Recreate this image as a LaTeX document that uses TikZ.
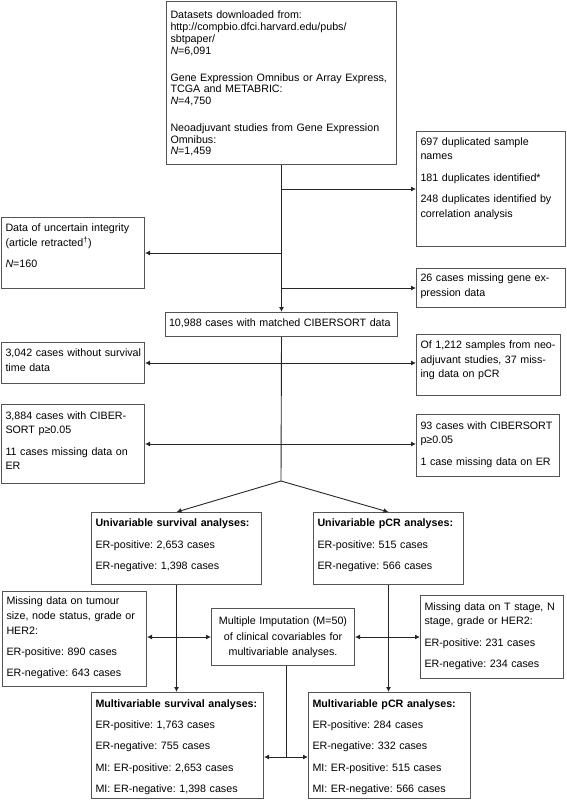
\documentclass[tikz,border=0pt]{standalone}
\usepackage{fontspec}
\setmainfont{Liberation Sans}
\usetikzlibrary{arrows.meta,calc}
\definecolor{boxgray}{rgb}{0.33,0.33,0.33}
\definecolor{lingray}{rgb}{0.15,0.15,0.15}
\frenchspacing

\begin{document}
\begin{tikzpicture}[x=1pt,y=-1pt,>={Latex[length=5pt,width=5pt]},
    box/.style={draw=boxgray,line width=1pt,anchor=north west,inner xsep=4pt,inner ysep=0pt,align=left,font=\fontsize{10.7}{14.7}\selectfont},
    link/.style={line width=0.9pt,color=lingray}]
\useasboundingbox (0,0) rectangle (566,800);

\node[box,text width=222pt,text height=17.5pt,text depth=145.5pt,font=\fontsize{10.7}{11.7}\selectfont] (src) at (166,1)
    {Datasets downloaded from:\\ http://compbio.dfci.harvard.edu/pubs/\\ sbtpaper/\\ \textit{N}=6,091\\[15.3pt]
     Gene Expression Omnibus or Array Express,\\ TCGA and METABRIC:\\ \textit{N}=4,750\\[15.3pt]
     Neoadjuvant studies from Gene Expression\\ Omnibus:\\ \textit{N}=1,459};
\node[box,text width=141pt,text height=13.7pt,text depth=101.3pt] (dup) at (416,131)
    {697 duplicated sample\\ names\\[6.5pt] 181 duplicates identified*\\[6.5pt] 248 duplicates identified by\\ correlation analysis};
\node[box,text width=135pt,text height=14pt,text depth=57pt] (retr) at (1,217)
    {Data of uncertain integrity\\ (article retracted\textsuperscript{†})\\[6.5pt] \textit{N}=160};
\node[box,text width=141pt,text height=13.4pt,text depth=25.6pt] (gene) at (416,268)
    {26 cases missing gene ex-\\ pression data};
\node[box,text width=225pt,text height=14pt,text depth=10pt,inner xsep=3.5pt] (matched) at (165,312)
    {10,988 cases with matched CIBERSORT data};
\node[box,text width=135pt,text height=14pt,text depth=27pt] (surv) at (1,342)
    {\mbox{3,042 cases without survival}\\ time data};
\node[box,text width=136pt,text height=14pt,text depth=47pt] (pcr) at (416,334)
    {Of 1,212 samples from neo-\\ adjuvant studies, 37 miss-\\ ing data on pCR};
\node[box,text width=135pt,text height=14.7pt,text depth=64.3pt] (cib) at (1,404)
    {3,884 cases with CIBER-\\ SORT p≥0.05\\[6.5pt] 11 cases missing data on\\ ER};
\node[box,text width=135pt,text height=14.7pt,text depth=47.3pt] (cibb) at (416,414)
    {93 cases with CIBERSORT\\ p≥0.05\\[6.5pt] 1 case missing data on ER};
\node[box,text width=162pt,text height=14.4pt,text depth=57.6pt] (usurv) at (91,512)
    {\textbf{Univariable survival analyses:}\\[6.5pt] ER-positive: 2,653 cases\\[6.5pt] ER-negative: 1,398 cases};
\node[box,text width=142pt,text height=14.4pt,text depth=57.6pt] (upcr) at (313,512)
    {\textbf{Univariable pCR analyses:}\\[6.5pt] ER-positive: 515 cases\\[6.5pt] ER-negative: 566 cases};
\node[box,text width=136pt,text height=13.4pt,text depth=81.6pt] (tum) at (2,591)
    {Missing data on tumour\\ size, node status, grade or\\ HER2:\\[6.5pt] ER-positive: 890 cases\\[6.5pt] ER-negative: 643 cases};
\node[box,text width=135pt,text height=16.4pt,text depth=40.6pt,align=center,font=\fontsize{10.7}{15.2}\selectfont] (mi) at (211,608)
    {Multiple Imputation (M=50)\\ of clinical covariables for\\ multivariable analyses.};
\node[box,text width=135pt,text height=14.7pt,text depth=68.3pt] (tst) at (420,595)
    {Missing data on T stage, N\\ stage, grade or HER2:\\[6.5pt] ER-positive: 231 cases\\[6.5pt] ER-negative: 234 cases};
\node[box,text width=164pt,text height=15pt,text depth=91pt] (msurv) at (91,692)
    {\textbf{Multivariable survival analyses:}\\[6.5pt] ER-positive: 1,763 cases\\[6.5pt] ER-negative: 755 cases\\[6.5pt]
     MI: ER-positive: 2,653 cases\\[6.5pt] MI: ER-negative: 1,398 cases};
\node[box,text width=154pt,text height=15pt,text depth=91pt] (mpcr) at (308,692)
    {\textbf{Multivariable pCR analyses:}\\[6.5pt] ER-positive: 284 cases\\[6.5pt] ER-negative: 332 cases\\[6.5pt]
     MI: ER-positive: 515 cases\\[6.5pt] MI: ER-negative: 566 cases};

\coordinate (split) at (281,481);
\coordinate (mibot) at (286,757);

\draw[link,->] (src.south) -- (src.south |- matched.north);
\draw[link,->] (src.south |- dup.west) -- (dup.west);
\draw[link,->] (src.south |- retr.east) -- (retr.east);
\draw[link,->] (src.south |- gene.west) -- (gene.west);
\draw[link] (matched.south) -- (split);
\draw[link,->] (split) -- (usurv.north);
\draw[link,->] (split) -- (upcr.north);
\draw[link,<->] (surv.east) -- (surv.east -| pcr.west);
\draw[link,<->] (cib.east) -- (cib.east -| cibb.west);
\draw[link,->] (usurv.south) -- (usurv.south |- msurv.north);
\draw[link,->] (upcr.south) -- (upcr.south |- mpcr.north);
\draw[link,<->] (mi.west -| tum.east) -- (mi.west);
\draw[link,<->] (mi.east) -- (mi.east -| tst.west);
\draw[link] (mibot |- mi.south) -- (mibot);
\draw[link,<->] (msurv.east |- mibot) -- (mpcr.west |- mibot);
\end{tikzpicture}
\end{document}
